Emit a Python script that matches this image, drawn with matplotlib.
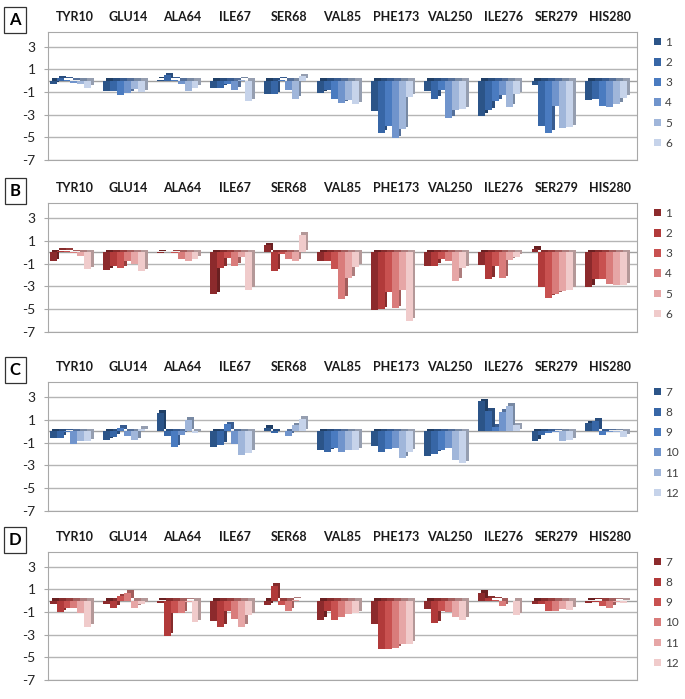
import matplotlib
matplotlib.use("Agg")
import matplotlib.pyplot as plt
import numpy as np
from matplotlib.patches import Patch
import matplotlib.colors as mcolors

plt.rcParams['font.family'] = ['Lato', 'DejaVu Sans']

residues = ["TYR10", "GLU14", "ALA64", "ILE67", "SER68", "VAL85",
            "PHE173", "VAL250", "ILE276", "SER279", "HIS280"]

# Panel A (series 1-6), one list per series, values per residue
A_1 = [-0.3, -0.9, 0.1, -0.6, -1.2, -1.1, -2.7, -0.9, -3.1, -0.4, -1.7]
A_2 = [0.2, -0.9, 0.5, -0.6, -1.2, -0.8, -4.6, -1.6, -2.6, -4.0, -1.6]
A_3 = [0.1, -1.3, 0.1, -0.3, 0.1, -1.6, -4.0, -0.8, -1.8, -4.6, -2.2]
A_4 = [-0.2, -1.1, -0.3, -0.8, -0.8, -2.0, -5.1, -3.3, -1.3, -2.2, -2.3]
A_5 = [-0.3, -0.7, -0.9, 0.1, -1.6, -1.7, -4.3, -2.6, -2.3, -4.2, -2.1]
A_6 = [-0.6, -1.0, -0.6, -1.8, 0.4, -2.1, -1.4, -2.5, -1.2, -4.1, -1.5]

# Panel B (series 1-6)
B_1 = [-0.8, -1.6, -0.1, -3.7, 0.6, -0.8, -5.1, -1.2, -1.1, 0.3, -3.1]
B_2 = [0.1, -1.2, 0.0, -1.4, -1.7, -0.8, -5.0, -1.2, -2.4, -3.1, -2.4]
B_3 = [0.1, -1.4, -0.1, -0.5, -0.2, -1.5, -3.5, -0.6, -1.2, -4.0, -2.4]
B_4 = [-0.1, -0.8, -0.6, -1.2, -0.6, -4.1, -4.9, -0.8, -2.3, -3.7, -2.8]
B_5 = [-0.3, -1.0, -0.8, -0.4, -0.8, -2.3, -3.3, -2.5, -0.7, -3.4, -2.9]
B_6 = [-1.5, -1.7, -0.6, -3.3, 1.5, -1.3, -6.0, -1.4, -0.4, -3.3, -2.9]

# Panel C (series 7-12)
C_7 = [-0.6, -0.8, 1.6, -1.4, 0.3, -1.7, -1.3, -2.2, 2.6, -0.9, 0.7]
C_8 = [-0.6, -0.5, -0.4, -1.2, -0.2, -1.8, -1.8, -2.0, 1.8, -0.3, 0.9]
C_9 = [-0.1, 0.3, -1.4, 0.6, 0.0, -1.5, -1.6, -1.7, 0.4, -0.2, -0.3]
C_10 = [-1.1, -0.4, -0.3, -1.1, -0.4, -1.8, -1.5, -1.5, 1.7, -0.1, -0.1]
C_11 = [-0.9, -0.8, 1.0, -2.1, 0.5, -1.7, -2.4, -2.5, 2.2, -0.9, -0.1]
C_12 = [-0.9, 0.2, -0.2, -1.9, 1.1, -1.7, -1.8, -2.8, 0.5, -0.8, -0.5]

# Panel D (series 7-12)
D_7 = [-0.3, -0.3, -0.2, -1.8, -0.4, -1.7, -2.1, -0.7, 0.7, -0.3, -0.2]
D_8 = [-1.0, -0.6, -3.1, -2.3, 1.3, -0.9, -4.3, -2.0, 0.2, -0.3, -0.1]
D_9 = [-0.6, 0.4, -1.1, -0.9, -0.4, -1.7, -4.3, -0.9, 0.1, -0.9, -0.5]
D_10 = [-0.6, 0.7, -1.1, -1.6, -0.9, -1.4, -4.2, -1.0, -0.5, -0.9, -0.6]
D_11 = [-1.1, -0.6, -0.1, -2.3, 0.1, -1.2, -3.8, -1.4, 0.0, -0.7, -0.1]
D_12 = [-2.3, -0.3, -1.9, -1.3, 0.0, -1.1, -3.8, -1.7, -1.3, -0.8, -0.2]

labels_A = ["1", "2", "3", "4", "5", "6"]
labels_C = ["7", "8", "9", "10", "11", "12"]

blues = ["#2b5488", "#3766a6", "#4a7bc0", "#7094cc", "#a0b6da", "#c6d3ea"]
reds = ["#8c2a2c", "#b13a3a", "#c85150", "#d97c7b", "#e6a6a6", "#f0cbcb"]

panels = [
    ("A", [A_1, A_2, A_3, A_4, A_5, A_6], labels_A, blues, 32, 160),
    ("B", [B_1, B_2, B_3, B_4, B_5, B_6], labels_A, reds, 203, 332),
    ("C", [C_7, C_8, C_9, C_10, C_11, C_12], labels_C, blues, 382, 511),
    ("D", [D_7, D_8, D_9, D_10, D_11, D_12], labels_C, reds, 552, 680),
]

W, H = 685, 699
fig = plt.figure(figsize=(W / 100, H / 100), dpi=100)

x = np.arange(len(residues))
bw = 0.13
dx, dy = 0.05, 0.22
left_px, right_px = 48, 637

for letter, series, labs, cols, top_px, bot_px in panels:
    ax = fig.add_axes([left_px / W, 1 - bot_px / H, (right_px - left_px) / W,
                       (bot_px - top_px) / H])
    ax.set_xlim(-0.5, len(residues) - 0.5)
    ax.set_ylim(-7, 4.3)
    ax.set_yticks([-7, -5, -3, -1, 1, 3])
    ax.set_yticklabels(["-7", "-5", "-3", "-1", "1", "3"], fontsize=10,
                       color='#262626')
    ax.set_xticks([])
    ax.grid(axis='y', color='#b5b5b5', linewidth=1.0)
    ax.set_axisbelow(True)
    for s in ax.spines.values():
        s.set_color('#a8a8a8')
    ax.tick_params(axis='y', length=3, color='#a8a8a8', pad=6)
    ax.axhline(0, color='#a0a0a0', linewidth=1.0, zorder=1)
    n = len(series)
    offs = (np.arange(n) - (n - 1) / 2) * bw - 0.08
    # shadow (side/top faces)
    for k, vals in enumerate(series):
        dark = np.array(mcolors.to_rgb(cols[k])) * 0.75
        ax.bar(x + offs[k] + dx, vals, width=bw, bottom=dy, color=dark,
               linewidth=0, zorder=2)
    for k, vals in enumerate(series):
        ax.bar(x + offs[k], vals, width=bw, color=cols[k], linewidth=0,
               zorder=3)
    # residue headers
    for i, r in enumerate(residues):
        ax.text(i, 1.0 + 15 / (bot_px - top_px), r, transform=ax.get_xaxis_transform(),
                ha='center', va='center', fontsize=9, fontweight='bold',
                color='#1a1a1a')
    # panel letter box
    fig.text(15 / W, 1 - (top_px - 12) / H, letter, ha='center', va='center',
             fontsize=12, fontweight='bold',
             bbox=dict(boxstyle='square,pad=0.3', fc='white', ec='#333333', lw=0.9))
    handles = [Patch(facecolor=c, edgecolor='none') for c in cols]
    ax.legend(handles, labs, loc='upper left', bbox_to_anchor=(1.02, 1.0),
              frameon=False, fontsize=8.5, handlelength=0.6, handleheight=0.6,
              handletextpad=0.4, labelspacing=0.78, borderaxespad=0.0,
              labelcolor='#404040')

fig.savefig("out.png", dpi=100)
